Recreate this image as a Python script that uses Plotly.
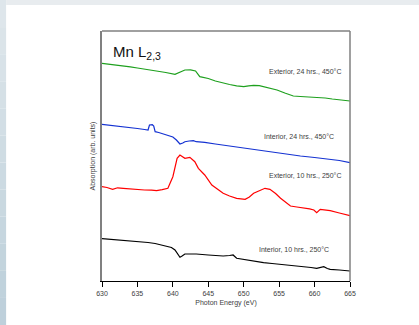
import plotly.graph_objects as go

# Photon energy (eV) / absorption (arb. units, offset)
green_x = [630, 631, 632, 633, 634, 635, 636, 637, 638, 639, 640.3, 641, 641.7, 642.5, 643.2, 643.8, 645, 646, 647.1, 648, 649, 650, 650.7, 651.4, 652.2, 652.8, 653.7, 654.7, 655.8, 657, 658, 659, 660.3, 661.5, 662.5, 663.5, 665]
green_y = [217.7, 217, 216, 215, 214.2, 213, 212, 211, 209.8, 208.5, 206.7, 208.5, 211, 211.2, 210, 204.3, 202.5, 200, 197.7, 196.5, 195.2, 194.3, 195.2, 195.7, 195.4, 194.3, 193, 191, 188, 185, 184.5, 184.2, 183.7, 183, 182, 181, 180]

blue_x = [630, 631, 632, 633, 634, 635, 636, 636.5, 636.7, 637.1, 637.3, 637.5, 638, 639, 640, 640.5, 641, 641.4, 641.7, 642.3, 642.9, 643.3, 644.5, 646, 647.5, 649, 650, 651.8, 653, 654.5, 656.6, 658, 660, 662, 663.5, 665]
blue_y = [156.7, 156, 155, 154.3, 153.5, 152.5, 151.5, 151, 156, 156.3, 155, 149.3, 148.5, 146.5, 144, 141, 137, 138, 139.3, 140, 140.3, 139.3, 138.7, 137, 135.5, 134, 132.7, 131, 129.8, 128, 126, 125, 123.5, 122, 120.5, 118.3]

red_x = [630, 630.7, 631.5, 632.2, 633, 634, 635, 636, 637, 637.7, 638.5, 639.3, 640, 640.3, 640.6, 641, 641.4, 641.7, 642.4, 643.1, 643.6, 644.5, 645.5, 646.3, 647.1, 648, 649, 650.2, 650.8, 651.4, 652.2, 653, 653.7, 654.5, 655.2, 656, 656.6, 657.5, 658.5, 659.3, 659.9, 660.3, 660.8, 661.5, 662.2, 663.5, 665]
red_y = [94.3, 93.5, 91.7, 93.2, 92.7, 92, 91.5, 91, 90.8, 90.3, 91.3, 92.7, 104.3, 113, 122.7, 126, 124.5, 122.7, 123.7, 119.3, 112.7, 106, 96, 91.5, 87.7, 85, 82.7, 81.7, 84, 87.7, 90.5, 92.7, 91.7, 87.5, 82.7, 78, 75, 74, 73.3, 72.2, 71, 68.3, 71.7, 71, 70.3, 68, 65.3]

black_x = [630, 631, 632, 633, 634, 635.3, 636.5, 637.5, 638.3, 639.1, 639.8, 640.3, 640.7, 641, 641.3, 641.7, 642.5, 643.3, 645, 646, 647.1, 648, 648.5, 649, 650, 651.5, 652.8, 654, 655.5, 656.6, 658, 659.5, 660.3, 660.8, 661.3, 661.8, 662.2, 663.5, 665]
black_y = [42.3, 41.7, 41.5, 41, 40.5, 39.3, 38.5, 37.5, 36.3, 35, 33.5, 31, 27.5, 23.7, 25, 27, 27, 27, 26, 25.5, 25, 25.5, 26, 22.7, 21.5, 20, 18.3, 17.5, 16.5, 16, 15, 13.5, 12.7, 13.5, 14.3, 12.5, 11.7, 11, 10]

series = [
    (green_x, green_y, "rgb(30,160,30)", "Exterior, 24 hrs., 450°C", 209.5),
    (blue_x, blue_y, "rgb(20,50,210)", "Interior, 24 hrs., 450°C", 145),
    (red_x, red_y, "rgb(255,0,0)", "Exterior, 10 hrs., 250°C", 106),
    (black_x, black_y, "rgb(0,0,0)", "Interior, 10 hrs., 250°C", 32),
]
label_x = [664, 663, 664, 662.3]

x_ticks = [630, 635, 640, 645, 650, 655, 660, 665]

FONT = "Liberation Sans, Arial, sans-serif"
TXT = "#404040"

fig = go.Figure()
for xs, ys, col, name, ly in series:
    fig.add_trace(go.Scatter(x=xs, y=ys, mode="lines", line=dict(color=col, width=1.2),
                             name=name, showlegend=False, hoverinfo="skip"))

for (xs, ys, col, name, ly), lx in zip(series, label_x):
    fig.add_annotation(x=lx, y=ly, text=name, showarrow=False, xanchor="right", yanchor="middle",
                       font=dict(family=FONT, size=7, color=TXT))

fig.add_annotation(x=0.035, y=0.96, xref="paper", yref="paper", text="Mn L<sub>2,3</sub>",
                   showarrow=False, xanchor="left", yanchor="top",
                   font=dict(family=FONT, size=15, color="#111111"))

shapes = []
# page background decoration
n = 12
for i in range(n):
    y0 = 1 + 31/250 - (i * 325 / n) / 250
    y1 = 1 + 31/250 - ((i + 1) * 325 / n) / 250
    t = i / (n - 1)
    r = int(222 - t * 32); g = int(230 - t * 22); b = int(235 - t * 16)
    shapes.append(dict(type="rect", xref="paper", yref="paper", x0=-102.5/247, x1=-95.5/247,
                       y0=y1, y1=y0, line=dict(width=0), fillcolor=f"rgb({r},{g},{b})", layer="below"))
shapes.append(dict(type="rect", xref="paper", yref="paper", x0=-95.5/247, x1=316.5/247,
                   y0=1 + 26/250, y1=1 + 31/250, line=dict(width=0), fillcolor="rgb(232,236,239)", layer="below"))
# frame: top and right grey
shapes.append(dict(type="line", xref="paper", yref="paper", x0=0, x1=1, y0=1, y1=1,
                   line=dict(color="#808080", width=1.5)))
shapes.append(dict(type="line", xref="paper", yref="paper", x0=1, x1=1, y0=0, y1=1,
                   line=dict(color="#808080", width=1.5)))

fig.update_layout(
    width=419, height=325,
    margin=dict(l=102, r=69, t=31, b=44),
    paper_bgcolor="white", plot_bgcolor="white",
    shapes=shapes,
    xaxis=dict(range=[630, 665], tickvals=x_ticks, ticks="outside", ticklen=5, tickwidth=1,
               tickcolor="black", showline=True, linecolor="black", linewidth=1.3,
               showgrid=False, zeroline=False,
               tickfont=dict(family=FONT, size=7, color=TXT),
               title=dict(text="Photon Energy (eV)", font=dict(family=FONT, size=7, color=TXT), standoff=4)),
    yaxis=dict(range=[0, 250], showticklabels=False, ticks="", showline=True, linecolor="#808080",
               linewidth=1.5, showgrid=False, zeroline=False,
               title=dict(text="Absorption (arb. units)", font=dict(family=FONT, size=7, color=TXT), standoff=4)),
)

fig.write_html("out.html", config={"displayModeBar": False},
               post_script="document.body.style.margin='0';document.body.style.overflow='hidden';")
